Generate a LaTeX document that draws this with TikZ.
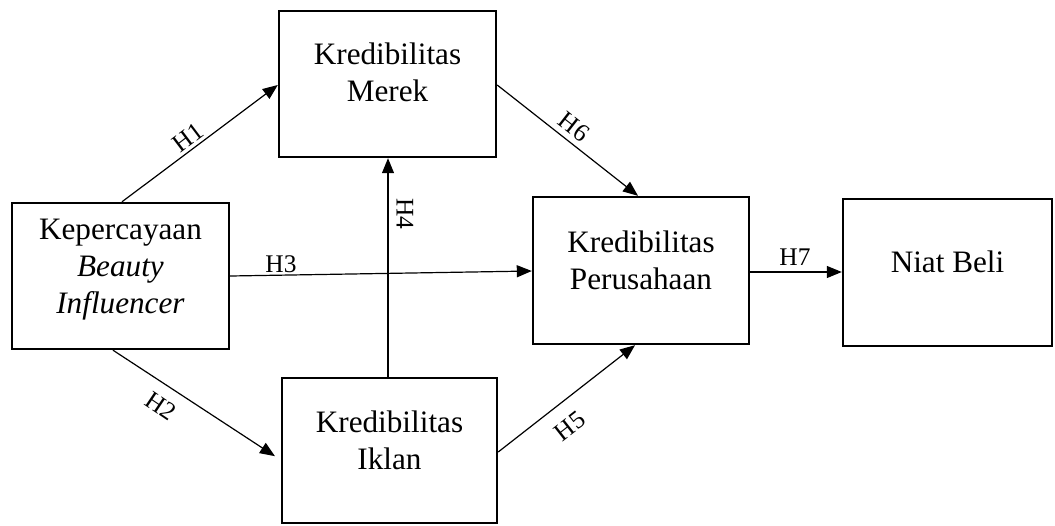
\documentclass[tikz,border=0pt]{standalone}
\usepackage{fontspec}
\setmainfont{Liberation Serif}
\usetikzlibrary{arrows.meta}
\begin{document}
\begin{tikzpicture}[x=0.5pt,y=-0.5pt,
  box/.style={draw, line width=1.2pt, rectangle, inner sep=0pt},
  boxtext/.style={align=center, inner sep=0pt, font=\fontsize{15.6}{18.6}\selectfont},
  link/.style={line width=0.6pt, -{Triangle[length=7.5pt,width=6pt]}},
  hyp/.style={inner sep=0pt, font=\fontsize{12.7}{14}\selectfont}]
\useasboundingbox (0,0) rectangle (1055,525);

% boxes
\node[box, minimum width=108.5pt, minimum height=73pt] (kb) at (120.5,276) {};
\node[box, minimum width=108.5pt, minimum height=73pt] (km) at (387.5,84) {};
\node[box, minimum width=107.5pt, minimum height=72.5pt] (ki) at (389.5,450.5) {};
\node[box, minimum width=108pt, minimum height=73.5pt] (kp) at (641,270.5) {};
\node[box, minimum width=104.5pt, minimum height=73.5pt] (nb) at (947.5,272.5) {};

% box texts
\node[boxtext] (kbt) at (120.5,269.5) {Kepercayaan\\\textit{Beauty}\\\textit{Influencer}};
\node[boxtext] (kmt) at (387.5,72) {Kredibilitas\\Merek};
\node[boxtext] (kit) at (389.5,440.5) {Kredibilitas\\Iklan};
\node[boxtext] (kpt) at (641,260.5) {Kredibilitas\\Perusahaan};
\node[boxtext] (nbt) at (947.5,261.5) {Niat Beli};

% paths
\draw[link] (122,0 |- kb.north) -- (0,85 -| km.west);
\draw[link] (0,85 -| km.east) -- (638,0 |- kp.north);
\draw[link, shorten >=3.5pt] (113,0 |- kb.south) -- (0,460 -| ki.west);
\draw[link] (0,452 -| ki.east) -- (635,0 |- kp.south);
\draw[link] (388,0 |- ki.north) -- (388,0 |- km.south);
\draw[link] (0,276 -| kb.east) -- (0,271 -| kp.west);
\draw[link] (0,272 -| kp.east) -- (0,272 -| nb.west);

% hypothesis labels
\node[hyp, rotate=37] (h1) at (188,137) {H1};
\node[hyp, rotate=-34] (h2) at (161,406) {H2};
\node[hyp] (h3) at (281,264) {H3};
\node[hyp, rotate=-90] (h4) at (405,214) {H4};
\node[hyp, rotate=38] (h5) at (570,426) {H5};
\node[hyp, rotate=-38] (h6) at (574,127) {H6};
\node[hyp] (h7) at (795,257) {H7};
\end{tikzpicture}
\end{document}
